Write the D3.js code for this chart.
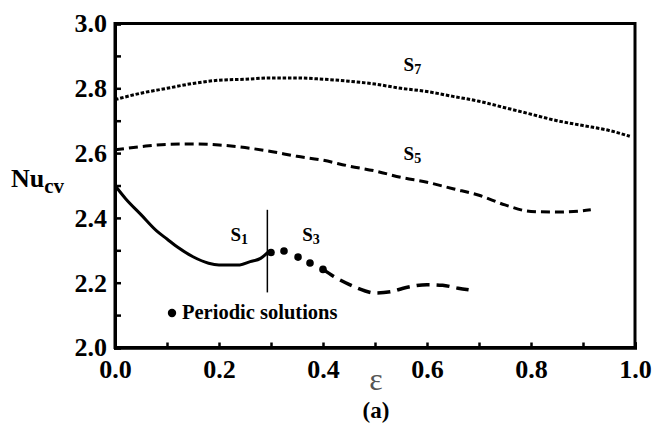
<!DOCTYPE html>
<html>
<head>
<meta charset="utf-8">
<script src="https://cdn.jsdelivr.net/npm/d3@7"></script>
<style>
body { margin: 0; background: #fff; }
text { font-family: "Liberation Serif", "Times New Roman", serif; }
</style>
</head>
<body>
<div id="chart"></div>
<script>
var width = 656;
var height = 426;
var margin = {top: 23.5, right: 21, bottom: 78.5, left: 115};

// data
var xTicks = [0.0, 0.2, 0.4, 0.6, 0.8, 1.0];
var xMinor = [0.1, 0.3, 0.5, 0.7, 0.9];
var yTicks = [2.0, 2.2, 2.4, 2.6, 2.8, 3.0];
var yMinor = [2.1, 2.3, 2.5, 2.7, 2.9];

var epsS1 = [0.0, 0.02, 0.05, 0.08, 0.1, 0.12, 0.15, 0.18, 0.2, 0.24, 0.26, 0.28, 0.295];
var nuS1  = [2.50, 2.46, 2.41, 2.36, 2.335, 2.31, 2.28, 2.26, 2.255, 2.255, 2.265, 2.275, 2.295];

var epsDots = [0.30, 0.325, 0.352, 0.375, 0.40];
var nuDots  = [2.293, 2.298, 2.279, 2.261, 2.241];

var epsS3 = [0.40, 0.42, 0.45, 0.48, 0.50, 0.53, 0.56, 0.60, 0.63, 0.66, 0.68];
var nuS3  = [2.241, 2.22, 2.195, 2.175, 2.168, 2.172, 2.185, 2.194, 2.192, 2.183, 2.178];

var epsS5 = [0.0, 0.05, 0.1, 0.15, 0.2, 0.25, 0.3, 0.35, 0.4, 0.45, 0.5, 0.55, 0.6, 0.65, 0.7, 0.75, 0.8, 0.85, 0.9, 0.915];
var nuS5  = [2.61, 2.62, 2.627, 2.628, 2.625, 2.617, 2.605, 2.59, 2.578, 2.56, 2.545, 2.525, 2.51, 2.49, 2.47, 2.44, 2.42, 2.418, 2.422, 2.425];

var epsS7 = [0.0, 0.05, 0.1, 0.15, 0.2, 0.25, 0.3, 0.35, 0.4, 0.45, 0.5, 0.55, 0.6, 0.65, 0.7, 0.75, 0.8, 0.85, 0.9, 0.95, 0.99];
var nuS7  = [2.765, 2.785, 2.80, 2.815, 2.825, 2.828, 2.832, 2.832, 2.828, 2.822, 2.813, 2.80, 2.79, 2.775, 2.76, 2.74, 2.72, 2.70, 2.685, 2.67, 2.652];

var labels = [
  {name: 'S', sub: '7', eps: 0.555, nu: 2.852},
  {name: 'S', sub: '5', eps: 0.555, nu: 2.580},
  {name: 'S', sub: '1', eps: 0.222, nu: 2.330},
  {name: 'S', sub: '3', eps: 0.360, nu: 2.330}
];

var svg = d3.select('#chart')
  .append('svg')
  .attr('width', width)
  .attr('height', height);

var x = d3.scaleLinear().domain([0, 1]).range([margin.left, width - margin.right]);
var y = d3.scaleLinear().domain([2.0, 3.0]).range([height - margin.bottom, margin.top]);

var pairs = function(xs, ys) { return xs.map(function(v, i) { return [v, ys[i]]; }); };
var line = d3.line().x(d => x(d[0])).y(d => y(d[1])).curve(d3.curveMonotoneX);

// curves
svg.append('path').datum(pairs(epsS7, nuS7))
  .attr('d', line).attr('fill', 'none').attr('stroke', '#000')
  .attr('stroke-width', 3).attr('stroke-dasharray', '3.5,1.8');

svg.append('path').datum(pairs(epsS5, nuS5))
  .attr('d', line).attr('fill', 'none').attr('stroke', '#000')
  .attr('stroke-width', 3).attr('stroke-dasharray', '9,5');

svg.append('path').datum(pairs(epsS1, nuS1))
  .attr('d', line).attr('fill', 'none').attr('stroke', '#000')
  .attr('stroke-width', 3);

svg.append('path').datum(pairs(epsS3, nuS3))
  .attr('d', line).attr('fill', 'none').attr('stroke', '#000')
  .attr('stroke-width', 3.5).attr('stroke-dasharray', '13,7');

svg.selectAll('circle.per').data(pairs(epsDots, nuDots)).enter()
  .append('circle').attr('class', 'per')
  .attr('cx', d => x(d[0])).attr('cy', d => y(d[1]))
  .attr('r', 3.8).attr('fill', '#000');

// separator between S1 and S3
svg.append('line')
  .attr('x1', x(0.293)).attr('x2', x(0.293))
  .attr('y1', y(2.425)).attr('y2', y(2.17))
  .attr('stroke', '#000').attr('stroke-width', 1.5);

// frame
svg.append('rect')
  .attr('x', x(0)).attr('y', y(3))
  .attr('width', x(1) - x(0)).attr('height', y(2) - y(3))
  .attr('fill', 'none').attr('stroke', '#000').attr('stroke-width', 3);

// axes
var xAxis = svg.append('g')
  .attr('transform', `translate(0, ${y(2)})`)
  .call(d3.axisBottom(x).tickValues(xTicks).tickFormat(d3.format('.1f')).tickSize(-5).tickPadding(12));
var xAxisMinor = svg.append('g')
  .attr('transform', `translate(0, ${y(2)})`)
  .call(d3.axisBottom(x).tickValues(xMinor).tickFormat('').tickSize(-5));
var yAxis = svg.append('g')
  .attr('transform', `translate(${x(0)}, 0)`)
  .call(d3.axisLeft(y).tickValues(yTicks).tickFormat(d3.format('.1f')).tickSize(-6).tickPadding(8));
var yAxisMinor = svg.append('g')
  .attr('transform', `translate(${x(0)}, 0)`)
  .call(d3.axisLeft(y).tickValues(yMinor).tickFormat('').tickSize(-6));

svg.selectAll('.domain').attr('stroke-width', 3);
svg.selectAll('.tick line').attr('stroke-width', 2.5);
svg.selectAll('.tick text')
  .attr('font-family', '"Liberation Serif", "Times New Roman", serif')
  .attr('font-size', 26).attr('font-weight', 'bold').attr('fill', '#000');

// curve labels
labels.forEach(function(l) {
  var t = svg.append('text')
    .attr('x', x(l.eps)).attr('y', y(l.nu))
    .attr('font-size', 19).attr('font-weight', 'bold');
  t.append('tspan').text(l.name);
  t.append('tspan').attr('font-size', 14).attr('dy', 3).text(l.sub);
});

// legend
svg.append('circle').attr('cx', 172).attr('cy', 313).attr('r', 4.2).attr('fill', '#000');
svg.append('text').attr('x', 182).attr('y', 319)
  .attr('font-size', 20.5).attr('font-weight', 'bold')
  .text('Periodic solutions');

// axis titles
var yt = svg.append('text').attr('x', 11).attr('y', 187)
  .attr('font-size', 26).attr('font-weight', 'bold');
yt.append('tspan').text('Nu');
yt.append('tspan').attr('font-size', 21).attr('dy', 6).text('cv');

svg.append('text').attr('x', 376).attr('y', 390)
  .attr('text-anchor', 'middle').attr('font-size', 32).attr('fill', '#555')
  .text('ε');

svg.append('text').attr('x', 376).attr('y', 418)
  .attr('text-anchor', 'middle').attr('font-size', 23).attr('font-weight', 'bold')
  .text('(a)');
</script>
</body>
</html>
